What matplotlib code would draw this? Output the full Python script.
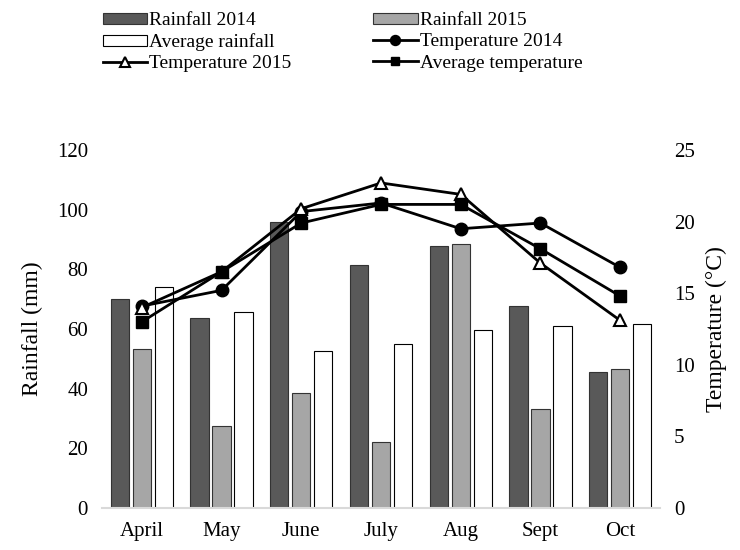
import matplotlib.pyplot as plt
import numpy as np

plt.rcParams['font.family'] = ['Liberation Serif', 'DejaVu Serif']

months = ["April", "May", "June", "July", "Aug", "Sept", "Oct"]
rain_2014 = [70, 63.8, 96, 81.4, 87.8, 67.8, 45.5]
rain_2015 = [53.4, 27.5, 38.5, 22, 88.6, 33.2, 46.6]
rain_avg = [74.1, 65.6, 52.5, 55, 59.8, 60.9, 61.7]
temp_2014 = [14.1, 15.2, 20.7, 21.3, 19.5, 19.9, 16.8]
temp_2015 = [14.0, 16.5, 20.9, 22.7, 21.9, 17.1, 13.1]
temp_avg = [13.0, 16.5, 19.9, 21.2, 21.2, 18.1, 14.8]

fig = plt.figure(figsize=(7.4, 5.5), dpi=100)
ax = fig.add_axes([102/740, 42/550, 558/740, 358/550])
x = np.arange(len(months))
w = 0.23
step = 0.276

b1 = ax.bar(x - step, rain_2014, w, color="#595959", edgecolor="#333333", linewidth=0.8, label="Rainfall 2014")
b2 = ax.bar(x, rain_2015, w, color="#a6a6a6", edgecolor="#333333", linewidth=0.8, label="Rainfall 2015")
b3 = ax.bar(x + step, rain_avg, w, color="white", edgecolor="black", linewidth=0.8, label="Average rainfall")

ax.set_ylim(0, 120)
ax.set_xlim(-0.5, len(months) - 0.5)
ax.set_yticks(range(0, 121, 20))
ax.set_xticks(x)
ax.set_xticklabels(months)
ax.set_ylabel("Rainfall (mm)", fontsize=17, labelpad=10)
ax.tick_params(length=0, labelsize=15, pad=10)
for s in ["top", "right", "left"]:
    ax.spines[s].set_visible(False)
ax.spines["bottom"].set_color("#d9d9d9")
ax.spines["bottom"].set_linewidth(1.5)

ax2 = ax.twinx()
l1, = ax2.plot(x, temp_2014, color="black", lw=2, marker="o", markersize=9, label="Temperature 2014")
l2, = ax2.plot(x, temp_2015, color="black", lw=2, marker="^", markersize=9, markerfacecolor="white",
               markeredgewidth=1.5, label="Temperature 2015")
l3, = ax2.plot(x, temp_avg, color="black", lw=2, marker="s", markersize=8, label="Average temperature")
ax2.set_ylim(0, 25)
ax2.set_yticks(range(0, 26, 5))
ax2.set_ylabel("Temperature (°C)", fontsize=17, labelpad=8)
ax2.tick_params(length=0, labelsize=15, pad=10)
for s in ax2.spines.values():
    s.set_visible(False)

handles = [b1, b3, l2, b2, l1, l3]
leg = fig.legend(handles=handles, labels=[h.get_label() for h in handles], ncol=2,
                 loc="upper left", bbox_to_anchor=(85/740, 1.01), frameon=False, fontsize=14,
                 handlelength=2.3, handleheight=0.5, handletextpad=0.1, columnspacing=4.2,
                 labelspacing=0.22, markerscale=0.8)

fig.savefig("out.png", dpi=100)
